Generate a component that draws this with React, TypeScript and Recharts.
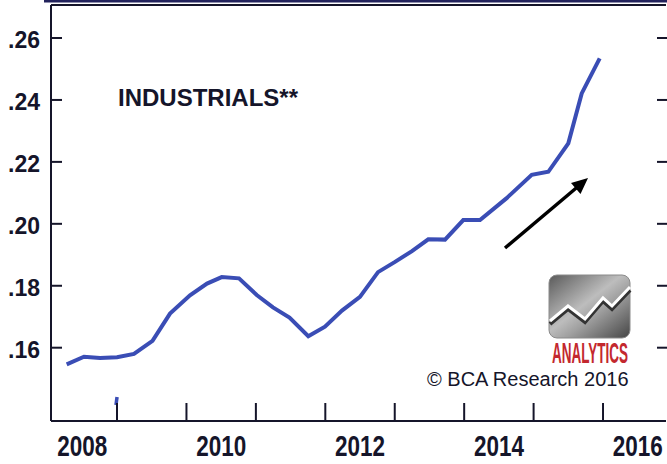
import React from 'react';
import { LineChart, Line, XAxis, YAxis } from 'recharts';

// ---- data ----
const dates = [
  2008.275, 2008.524, 2008.755, 2009.0, 2009.244, 2009.511, 2009.763, 2010.051,
  2010.296, 2010.508, 2010.757, 2011.012, 2011.246, 2011.484, 2011.755, 2011.995,
  2012.24, 2012.499, 2012.759, 2013.004, 2013.248, 2013.483, 2013.724, 2013.987,
  2014.228, 2014.612, 2014.973, 2015.212, 2015.5, 2015.693, 2015.952,
];
const values = [
  0.1546, 0.1571, 0.1567, 0.1569, 0.158, 0.1622, 0.171, 0.1769,
  0.1807, 0.1828, 0.1824, 0.177, 0.173, 0.1697, 0.1637, 0.1668,
  0.172, 0.1764, 0.1844, 0.1877, 0.1912, 0.195, 0.1949, 0.2012,
  0.2012, 0.2083, 0.2158, 0.2168, 0.226, 0.2421, 0.2534,
];
const blipDates = [2008.985, 2009.0];
const blipValues = [0.1415, 0.1441];

const yTicks = [0.16, 0.18, 0.2, 0.22, 0.24, 0.26];
const yearTicks = [2009, 2010, 2011, 2012, 2013, 2014, 2015, 2016];
const labelYears = [2008, 2010, 2012, 2014, 2016];
const titleText = 'INDUSTRIALS**';
const creditText = '© BCA Research 2016';
const logoWord = 'ANALYTICS';

const xDomain: [number, number] = [2008.049, 2016.907];
const yDomain: [number, number] = [0.13633, 0.27066];

const lineData = dates.map((t, i) => ({ t, v: values[i] }));
const blipData = blipDates.map((t, i) => ({ t, v: blipValues[i] }));
const labelTicks = labelYears.map((y) => y + 0.5);
const bottomTicks = [...yearTicks, ...labelTicks].sort((a, b) => a - b);

const FONT = '"Liberation Sans", Arial, Helvetica, sans-serif';
const INK = '#15152a';
const LINE = '#3a4db5';

const fmtY = (v: number) => v.toFixed(2).replace(/^0/, '');

const LeftTick = (p: any) => {
  const { x, y, payload } = p;
  return (
    <g>
      <line x1={x} x2={x + 11} y1={y} y2={y} stroke={INK} strokeWidth={2} />
      <text x={x - 11} y={y + 10} textAnchor="end" fontFamily={FONT} fontSize={23} fontWeight="bold" fill={INK}>
        {fmtY(payload.value)}
      </text>
    </g>
  );
};

const RightTick = (p: any) => {
  const { x, y } = p;
  return <line x1={x - 9} x2={x + 1} y1={y} y2={y} stroke={INK} strokeWidth={2} />;
};

const BottomTick = (p: any) => {
  const { x, y, payload } = p;
  const v = payload.value as number;
  if (Number.isInteger(v)) {
    return <line x1={x} x2={x} y1={y - 18} y2={y} stroke={INK} strokeWidth={2} />;
  }
  return (
    <text
      x={x}
      y={y + 35}
      textAnchor="middle"
      fontFamily={FONT}
      fontSize={29}
      fontWeight="bold"
      fill={INK}
      textLength={50}
      lengthAdjust="spacingAndGlyphs"
    >
      {String(Math.floor(v))}
    </text>
  );
};

export default function App() {
  return (
    <div style={{ position: 'absolute', left: 0, top: 0, width: 667, height: 464, background: '#fff', overflow: 'hidden' }}>
      <LineChart width={667} height={464} margin={{ top: 4, right: 0, bottom: 0, left: 0 }}>
        <XAxis
          xAxisId="top"
          orientation="top"
          type="number"
          dataKey="t"
          domain={xDomain}
          allowDataOverflow
          height={1}
          tick={false}
          tickLine={false}
          axisLine={{ stroke: INK, strokeWidth: 2 }}
        />
        <XAxis
          xAxisId="main"
          type="number"
          dataKey="t"
          domain={xDomain}
          allowDataOverflow
          ticks={bottomTicks}
          interval={0}
          height={43}
          tickSize={0}
          tickMargin={0}
          tickLine={false}
          tick={(p: any) => <BottomTick {...p} />}
          axisLine={{ stroke: INK, strokeWidth: 2 }}
        />
        <YAxis
          yAxisId="l"
          type="number"
          domain={yDomain}
          allowDataOverflow
          ticks={yTicks}
          interval={0}
          width={51}
          tickSize={0}
          tickMargin={0}
          tickLine={false}
          tick={(p: any) => <LeftTick {...p} />}
          axisLine={{ stroke: INK, strokeWidth: 2 }}
        />
        <YAxis
          yAxisId="r"
          orientation="right"
          type="number"
          domain={yDomain}
          allowDataOverflow
          ticks={yTicks}
          interval={0}
          width={1}
          tickSize={0}
          tickMargin={0}
          tickLine={false}
          tick={(p: any) => <RightTick {...p} />}
          axisLine={false}
        />
        <Line
          xAxisId="main"
          yAxisId="l"
          data={lineData}
          dataKey="v"
          type="linear"
          stroke={LINE}
          strokeWidth={4}
          dot={false}
          isAnimationActive={false}
        />
        <Line
          xAxisId="main"
          yAxisId="l"
          data={blipData}
          dataKey="v"
          type="linear"
          stroke={LINE}
          strokeWidth={3.5}
          dot={false}
          isAnimationActive={false}
        />
      </LineChart>
      <svg width={667} height={464} style={{ position: 'absolute', left: 0, top: 0, pointerEvents: 'none' }}>
        <defs>
          <linearGradient id="logoGrad" x1="0" y1="0" x2="1" y2="1">
            <stop offset="0" stopColor="#5a5a5a" />
            <stop offset="0.45" stopColor="#bdbdbd" />
            <stop offset="0.6" stopColor="#a0a0a0" />
            <stop offset="1" stopColor="#454545" />
          </linearGradient>
        </defs>
        <rect x={44} y={0} width={623} height={2.5} fill="#22225c" />
        <text x={118} y={106} fontFamily={FONT} fontSize={24} fontWeight="bold" fill={INK}>
          {titleText}
        </text>
        <line x1={505} y1={248} x2={578} y2={186.5} stroke="#000" strokeWidth={3.5} />
        <polygon points="588,178 571,183 580.5,194" fill="#000" />
        <rect x={549} y={275} width={81} height={63} rx={8} fill="url(#logoGrad)" stroke="#8a8a8a" strokeWidth={1} />
        <polyline points="550,324 568,309 585,322 603,301 612,309 630,290" fill="none" stroke="#333" strokeWidth={4} />
        <polyline points="550,321 568,306 585,319 603,298 612,306 630,287" fill="none" stroke="#fff" strokeWidth={3} />
        <text
          x={552}
          y={363}
          fontFamily={FONT}
          fontSize={30}
          fontWeight="bold"
          fill="#c3282e"
          textLength={76}
          lengthAdjust="spacingAndGlyphs"
        >
          {logoWord}
        </text>
        <text x={427} y={386} fontFamily={FONT} fontSize={20} fill={INK}>
          {creditText}
        </text>
      </svg>
    </div>
  );
}
